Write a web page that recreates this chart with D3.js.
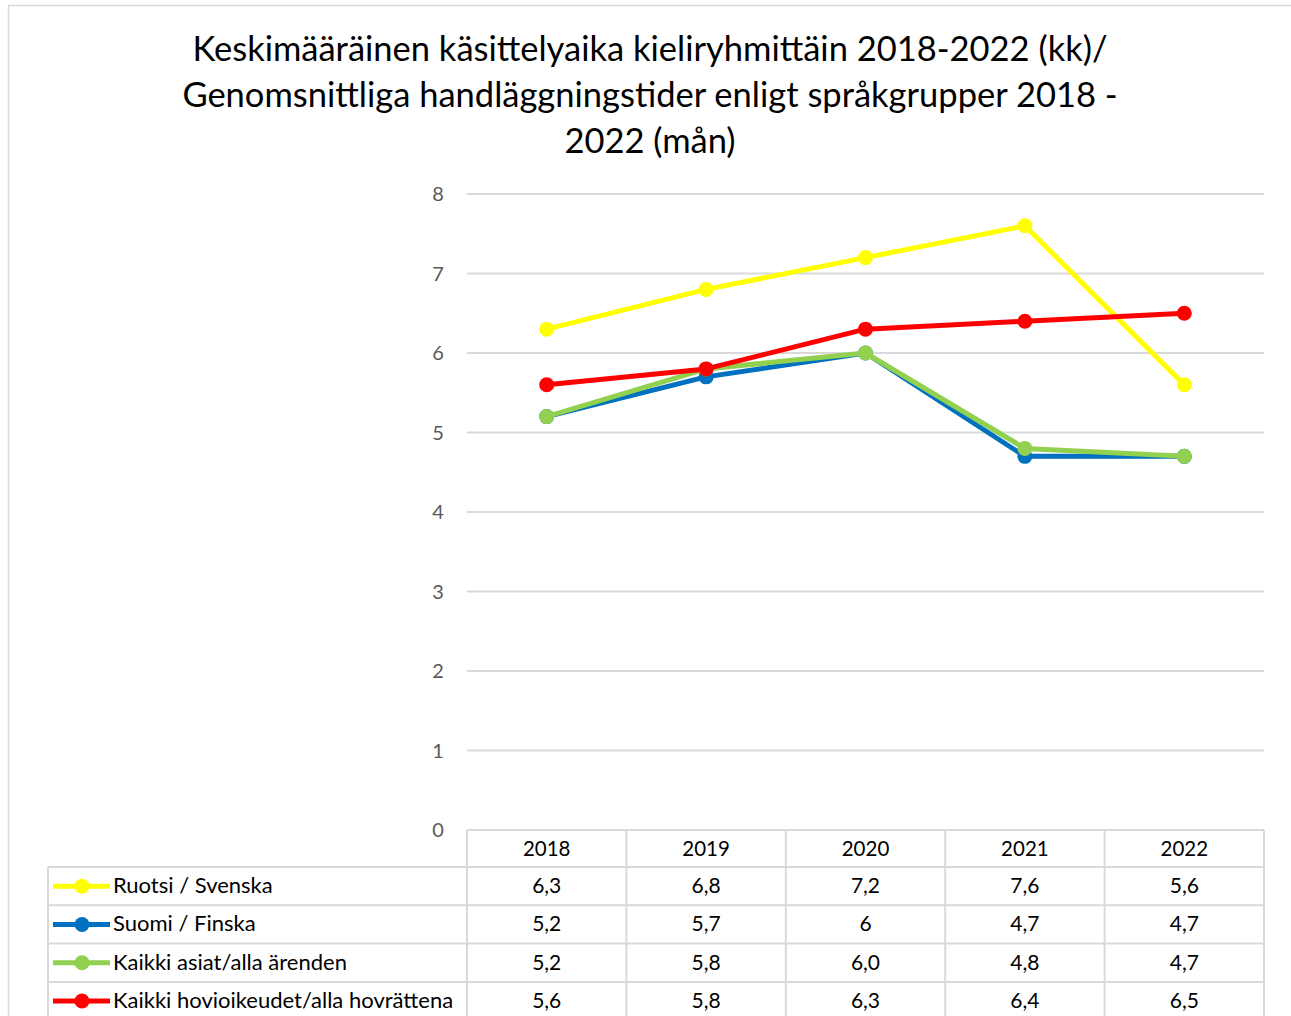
<!DOCTYPE html>
<html>
<head>
<meta charset="utf-8">
<script src="https://cdn.jsdelivr.net/npm/d3@7"></script>
<style>
  body { margin: 0; background: #fff; }
  svg { display: block; font-family: Lato, "Noto Sans", sans-serif; }
</style>
</head>
<body>
<svg id="chart"></svg>
<script>
// data
const years = ['2018', '2019', '2020', '2021', '2022'];
const seriesNames = ['Ruotsi / Svenska', 'Suomi / Finska', 'Kaikki asiat/alla ärenden', 'Kaikki hovioikeudet/alla hovrättena'];
const seriesColors = ['#ffff00', '#0070c0', '#92d050', '#ff0000'];
const svenska = [6.3, 6.8, 7.2, 7.6, 5.6];
const finska = [5.2, 5.7, 6, 4.7, 4.7];
const allaArenden = [5.2, 5.8, 6.0, 4.8, 4.7];
const allaHovratter = [5.6, 5.8, 6.3, 6.4, 6.5];
// how the table shows each value (the source is not consistent)
const tableLabels = [
	['6,3', '6,8', '7,2', '7,6', '5,6'],
	['5,2', '5,7', '6', '4,7', '4,7'],
	['5,2', '5,8', '6,0', '4,8', '4,7'],
	['5,6', '5,8', '6,3', '6,4', '6,5']
];
const yTicks = [0, 1, 2, 3, 4, 5, 6, 7, 8];
const titleLines = [
	'Keskimääräinen käsittelyaika kieliryhmittäin 2018-2022 (kk)/',
	'Genomsnittliga handläggningstider enligt språkgrupper 2018 -',
	'2022 (mån)'
];

const series = seriesNames.map((name, i) => ({
	name: name,
	color: seriesColors[i],
	values: [svenska, finska, allaArenden, allaHovratter][i],
	labels: tableLabels[i]
}));

const width = 1291;
const height = 1016;
const svg = d3.select('#chart').attr('width', width).attr('height', height);

const plotLeft = 467, plotRight = 1264, plotTop = 194, plotBottom = 830;
const tableLeft = 48;
const headerH = 37, rowH = 38.3;
const gridColor = '#d9d9d9';

// outer chart border
svg.append('rect')
	.attr('x', 8.5).attr('y', 5.5)
	.attr('width', width).attr('height', height)
	.attr('fill', 'none').attr('stroke', gridColor).attr('stroke-width', 1.5);

// title
svg.append('text')
	.attr('text-anchor', 'middle')
	.attr('font-size', 34.5)
	.attr('fill', '#000')
	.selectAll('tspan')
	.data(titleLines)
	.enter().append('tspan')
	.attr('x', 650)
	.attr('y', (d, i) => 61 + i * 46)
	.text((d) => d);

const x = d3.scaleBand().domain(years).range([plotLeft, plotRight]);
const y = d3.scaleLinear().domain([0, 8]).range([plotBottom, plotTop]);

// gridlines
svg.append('g')
	.selectAll('line')
	.data(yTicks.filter((t) => t > 0))
	.enter().append('line')
	.attr('x1', plotLeft).attr('x2', plotRight)
	.attr('y1', (d) => y(d)).attr('y2', (d) => y(d))
	.attr('stroke', gridColor).attr('stroke-width', 2);

// y axis labels
svg.append('g')
	.selectAll('text')
	.data(yTicks)
	.enter().append('text')
	.attr('x', 438)
	.attr('y', (d) => y(d) + 7)
	.attr('text-anchor', 'middle')
	.attr('font-size', 20)
	.attr('fill', '#595959')
	.text((d) => d);

// lines + markers
const line = d3.line()
	.x((d, i) => x(years[i]) + x.bandwidth() / 2)
	.y((d) => y(d));

const seriesG = svg.append('g')
	.selectAll('g')
	.data(series)
	.enter().append('g');

seriesG.append('path')
	.attr('d', (d) => line(d.values))
	.attr('fill', 'none')
	.attr('stroke', (d) => d.color)
	.attr('stroke-width', 5)
	.attr('stroke-linejoin', 'round');

seriesG.selectAll('circle')
	.data((d) => d.values.map((v, i) => ({ v: v, i: i, color: d.color })))
	.enter().append('circle')
	.attr('cx', (d) => x(years[d.i]) + x.bandwidth() / 2)
	.attr('cy', (d) => y(d.v))
	.attr('r', 7.5)
	.attr('fill', (d) => d.color);

// data table
const table = svg.append('g');
const rowTop = (r) => plotBottom + headerH + r * rowH;
const tableBottom = rowTop(series.length);

// horizontal lines of the table
table.append('line')
	.attr('x1', plotLeft).attr('x2', plotRight)
	.attr('y1', plotBottom).attr('y2', plotBottom)
	.attr('stroke', gridColor).attr('stroke-width', 2);
table.selectAll('line.h')
	.data(d3.range(series.length + 1))
	.enter().append('line')
	.attr('class', 'h')
	.attr('x1', tableLeft).attr('x2', plotRight)
	.attr('y1', (r) => rowTop(r)).attr('y2', (r) => rowTop(r))
	.attr('stroke', gridColor).attr('stroke-width', 2);

// vertical lines
table.selectAll('line.v')
	.data(years.map((yr) => x(yr)).concat([plotRight]))
	.enter().append('line')
	.attr('class', 'v')
	.attr('x1', (d) => d).attr('x2', (d) => d)
	.attr('y1', plotBottom).attr('y2', tableBottom)
	.attr('stroke', gridColor).attr('stroke-width', 2);
table.append('line')
	.attr('x1', tableLeft).attr('x2', tableLeft)
	.attr('y1', rowTop(0)).attr('y2', tableBottom)
	.attr('stroke', gridColor).attr('stroke-width', 2);

// year headers
table.selectAll('text.year')
	.data(years)
	.enter().append('text')
	.attr('class', 'year')
	.attr('x', (d) => x(d) + x.bandwidth() / 2)
	.attr('y', plotBottom + 26)
	.attr('text-anchor', 'middle')
	.attr('font-size', 20.5)
	.attr('fill', '#000')
	.text((d) => d);

const rows = table.selectAll('g.row')
	.data(series)
	.enter().append('g')
	.attr('class', 'row')
	.attr('transform', (d, i) => 'translate(0,' + rowTop(i) + ')');

// legend keys
rows.append('line')
	.attr('x1', 53).attr('x2', 110)
	.attr('y1', rowH / 2).attr('y2', rowH / 2)
	.attr('stroke', (d) => d.color)
	.attr('stroke-width', 5);
rows.append('circle')
	.attr('cx', 82).attr('cy', rowH / 2)
	.attr('r', 7.5)
	.attr('fill', (d) => d.color);
rows.append('text')
	.attr('x', 113)
	.attr('y', rowH / 2 + 7)
	.attr('font-size', 22)
	.attr('fill', '#000')
	.text((d) => d.name);

rows.selectAll('text.val')
	.data((d) => d.labels)
	.enter().append('text')
	.attr('class', 'val')
	.attr('x', (d, i) => x(years[i]) + x.bandwidth() / 2)
	.attr('y', rowH / 2 + 7)
	.attr('text-anchor', 'middle')
	.attr('font-size', 21)
	.attr('fill', '#000')
	.text((d) => d);
</script>
</body>
</html>
